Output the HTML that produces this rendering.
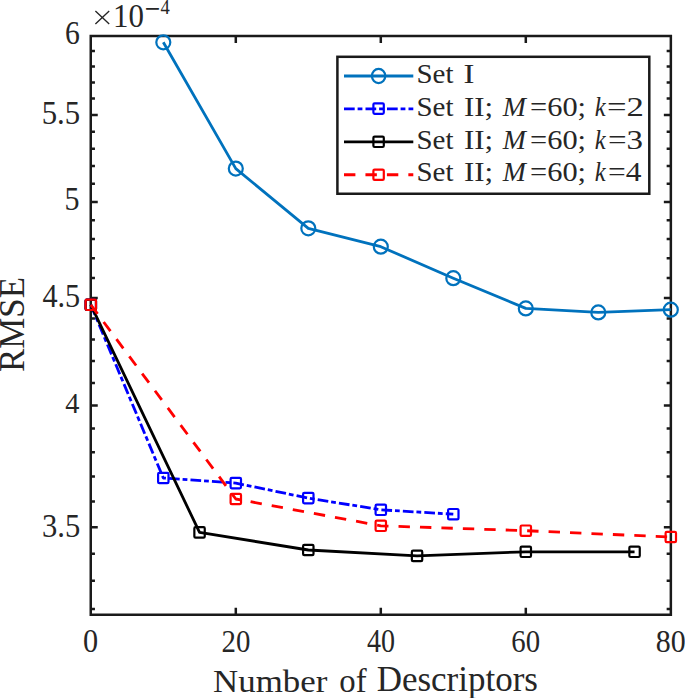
<!DOCTYPE html>
<html><head><meta charset="utf-8"><style>html,body{margin:0;padding:0;background:#fff;overflow:hidden}svg{display:block}</style></head>
<body><svg width="685" height="698" viewBox="0 0 685 698">
<rect width="685" height="698" fill="#fff"/>
<g font-family="Liberation Serif" fill="#262626"><text transform="translate(83.04 651.66) scale(1.0094 1.0880)" font-size="30">0</text><text transform="translate(221.49 651.66) scale(0.9613 1.0880)" font-size="30">20</text><text transform="translate(367.02 651.66) scale(0.9358 1.0880)" font-size="30">40</text><text transform="translate(511.28 651.66) scale(0.9613 1.0880)" font-size="30">60</text><text transform="translate(655.84 651.66) scale(0.9977 1.0880)" font-size="30">80</text><text transform="translate(65.06 44.25) scale(0.9903 1.1024)" font-size="30">6</text><text transform="translate(41.70 123.76) scale(1.0265 1.1016)" font-size="30">5.5</text><text transform="translate(64.55 210.23) scale(1.0004 1.1039)" font-size="30">5</text><text transform="translate(42.38 306.61) scale(1.0078 1.1099)" font-size="30">4.5</text><text transform="translate(65.21 412.90) scale(0.9451 1.0128)" font-size="30">4</text><text transform="translate(41.95 536.77) scale(1.0199 1.1295)" font-size="30">3.5</text><text transform="translate(113.05 26.67) scale(1.0313 1.1099)" font-size="30">10</text><text transform="translate(144.39 20.23) scale(1.3156 1.6161)" font-size="21">−</text><text transform="translate(160.45 14.13) scale(0.8846 1.0345)" font-size="21">4</text><text transform="translate(213.07 691.86) scale(1.0255 0.9441)" font-size="34">Number</text><text transform="translate(339.30 691.85) scale(0.9630 0.9947)" font-size="34">of</text><text transform="translate(376.67 691.00) scale(1.0292 1.0379)" font-size="34">Descriptors</text><text transform="translate(24.05 371.93) rotate(-90) scale(1.0252 1.0497)" font-size="34">RMSE</text></g>
<path d="M95.4 10.9L109.2 24.1M109.2 10.9L95.4 24.1" stroke="#262626" stroke-width="1.35" fill="none"/>
<path d="M90.75 35.90H670.85V614.85H90.75Z" fill="none" stroke="#1a1a1a" stroke-width="2.5"/>
<path d="M235.80 614.85V607.85M235.80 35.90V42.90M380.80 614.85V607.85M380.80 35.90V42.90M525.80 614.85V607.85M525.80 35.90V42.90M90.75 608.92H94.95M670.85 608.92H666.65M90.75 580.86H94.95M670.85 580.86H666.65M90.75 553.63H94.95M670.85 553.63H666.65M90.75 527.19H97.75M670.85 527.19H663.85M90.75 501.50H94.95M670.85 501.50H666.65M90.75 476.51H94.95M670.85 476.51H666.65M90.75 452.18H94.95M670.85 452.18H666.65M90.75 428.49H94.95M670.85 428.49H666.65M90.75 405.40H97.75M670.85 405.40H663.85M90.75 382.88H94.95M670.85 382.88H666.65M90.75 360.90H94.95M670.85 360.90H666.65M90.75 339.44H94.95M670.85 339.44H666.65M90.75 318.47H94.95M670.85 318.47H666.65M90.75 297.98H97.75M670.85 297.98H663.85M90.75 277.93H94.95M670.85 277.93H666.65M90.75 258.32H94.95M670.85 258.32H666.65M90.75 239.11H94.95M670.85 239.11H666.65M90.75 220.31H94.95M670.85 220.31H666.65M90.75 201.88H97.75M670.85 201.88H663.85M90.75 183.82H94.95M670.85 183.82H666.65M90.75 166.11H94.95M670.85 166.11H666.65M90.75 148.74H94.95M670.85 148.74H666.65M90.75 131.69H94.95M670.85 131.69H666.65M90.75 114.95H97.75M670.85 114.95H663.85M90.75 98.52H94.95M670.85 98.52H666.65M90.75 82.38H94.95M670.85 82.38H666.65M90.75 66.51H94.95M670.85 66.51H666.65M90.75 50.92H94.95M670.85 50.92H666.65" fill="none" stroke="#1a1a1a" stroke-width="2.5"/>
<g fill="none" stroke-linejoin="round" stroke-width="2.8">
<polyline points="163.30,42.30 235.80,168.60 308.30,228.30 380.80,246.70 453.30,278.20 525.80,308.40 598.30,312.40 670.80,309.70" stroke="#0072BD"/>
<g stroke-width="2.2"><circle cx="163.30" cy="42.30" r="7.0" stroke="#0072BD"/><circle cx="235.80" cy="168.60" r="7.0" stroke="#0072BD"/><circle cx="308.30" cy="228.30" r="7.0" stroke="#0072BD"/><circle cx="380.80" cy="246.70" r="7.0" stroke="#0072BD"/><circle cx="453.30" cy="278.20" r="7.0" stroke="#0072BD"/><circle cx="525.80" cy="308.40" r="7.0" stroke="#0072BD"/><circle cx="598.30" cy="312.40" r="7.0" stroke="#0072BD"/><circle cx="670.80" cy="309.70" r="7.0" stroke="#0072BD"/></g>
<polyline points="90.80,304.80 163.30,478.00 235.80,483.10 308.30,498.10 380.80,509.80 453.30,514.20" stroke="#0000FF" stroke-dasharray="10.7 2.9 4.8 3.1"/>
<g stroke-width="2.2"><rect x="85.60" y="299.60" width="10.4" height="10.4" rx="1.2" stroke="#0000FF"/><rect x="158.10" y="472.80" width="10.4" height="10.4" rx="1.2" stroke="#0000FF"/><rect x="230.60" y="477.90" width="10.4" height="10.4" rx="1.2" stroke="#0000FF"/><rect x="303.10" y="492.90" width="10.4" height="10.4" rx="1.2" stroke="#0000FF"/><rect x="375.60" y="504.60" width="10.4" height="10.4" rx="1.2" stroke="#0000FF"/><rect x="448.10" y="509.00" width="10.4" height="10.4" rx="1.2" stroke="#0000FF"/></g>
<polyline points="90.80,304.80 199.55,532.40 308.30,550.00 417.05,555.90 525.80,551.80 634.55,551.80" stroke="#000000"/>
<g stroke-width="2.2"><rect x="85.60" y="299.60" width="10.4" height="10.4" rx="1.2" stroke="#000000"/><rect x="194.35" y="527.20" width="10.4" height="10.4" rx="1.2" stroke="#000000"/><rect x="303.10" y="544.80" width="10.4" height="10.4" rx="1.2" stroke="#000000"/><rect x="411.85" y="550.70" width="10.4" height="10.4" rx="1.2" stroke="#000000"/><rect x="520.60" y="546.60" width="10.4" height="10.4" rx="1.2" stroke="#000000"/><rect x="629.35" y="546.60" width="10.4" height="10.4" rx="1.2" stroke="#000000"/></g>
<polyline points="90.80,304.80 235.80,499.00 380.80,525.80 525.80,530.70 670.80,537.00" stroke="#FF0000" stroke-dasharray="11.4 10.05"/>
<g stroke-width="2.2"><rect x="85.60" y="299.60" width="10.4" height="10.4" rx="1.2" stroke="#FF0000"/><rect x="230.60" y="493.80" width="10.4" height="10.4" rx="1.2" stroke="#FF0000"/><rect x="375.60" y="520.60" width="10.4" height="10.4" rx="1.2" stroke="#FF0000"/><rect x="520.60" y="525.50" width="10.4" height="10.4" rx="1.2" stroke="#FF0000"/><rect x="665.60" y="531.80" width="10.4" height="10.4" rx="1.2" stroke="#FF0000"/></g>
</g>
<rect x="337.4" y="56.8" width="311.9" height="136.95" fill="#fff" stroke="#1a1a1a" stroke-width="2.5"/>
<g stroke-width="2.8" fill="none">
<path d="M344 76.0H413.3" stroke="#0072BD"/><ellipse cx="378.6" cy="76.0" rx="6.7" ry="7.1" stroke="#0072BD" stroke-width="2.2"/>
<path d="M344 108.9H413.3" stroke="#0000FF" stroke-dasharray="10.7 2.9 4.8 3.1"/><rect x="373.40000000000003" y="103.4" width="10.4" height="10.4" rx="1.2" stroke="#0000FF" stroke-width="2.2"/>
<path d="M344 141.8H413.3" stroke="#000000"/><rect x="373.40000000000003" y="136.60000000000002" width="10.4" height="10.4" rx="1.2" stroke="#000000" stroke-width="2.2"/>
<path d="M344 174.75H413.3" stroke="#FF0000" stroke-dasharray="11.4 10.05"/><rect x="373.40000000000003" y="169.55" width="10.4" height="10.4" rx="1.2" stroke="#FF0000" stroke-width="2.2"/>
</g>
<g font-family="Liberation Serif" fill="#262626"><text transform="translate(416.45 82.80) scale(1.0529 1.0000)" font-size="27.5">Set</text><text transform="translate(463.47 82.80) scale(1.1914 1.0000)" font-size="27.5">I</text><text transform="translate(416.45 115.70) scale(1.0529 1.0000)" font-size="27.5">Set</text><text transform="translate(463.97 115.70) scale(1.1258 1.0000)" font-size="27.5">II;</text><text transform="translate(502.75 115.70) scale(1.0123 1.0000)" font-size="27.5" font-style="italic">M</text><text transform="translate(530.11 115.70) scale(1.1049 1.0000)" font-size="27.5">=60;</text><text transform="translate(594.80 115.70) scale(0.8920 1.0000)" font-size="27.5" font-style="italic">k</text><text transform="translate(606.90 115.70) scale(1.2616 1.0000)" font-size="27.5">=2</text><text transform="translate(416.45 148.50) scale(1.0529 1.0000)" font-size="27.5">Set</text><text transform="translate(463.97 148.50) scale(1.1258 1.0000)" font-size="27.5">II;</text><text transform="translate(502.75 148.50) scale(1.0123 1.0000)" font-size="27.5" font-style="italic">M</text><text transform="translate(530.11 148.50) scale(1.1049 1.0000)" font-size="27.5">=60;</text><text transform="translate(594.80 148.50) scale(0.8920 1.0000)" font-size="27.5" font-style="italic">k</text><text transform="translate(608.00 148.50) scale(1.2000 1.0000)" font-size="27.5">=3</text><text transform="translate(416.45 181.40) scale(1.0529 1.0000)" font-size="27.5">Set</text><text transform="translate(463.97 181.40) scale(1.1258 1.0000)" font-size="27.5">II;</text><text transform="translate(502.75 181.40) scale(1.0123 1.0000)" font-size="27.5" font-style="italic">M</text><text transform="translate(530.11 181.40) scale(1.1049 1.0000)" font-size="27.5">=60;</text><text transform="translate(594.80 181.40) scale(0.8920 1.0000)" font-size="27.5" font-style="italic">k</text><text transform="translate(608.06 181.40) scale(1.1429 1.0000)" font-size="27.5">=4</text></g>
</svg></body></html>
